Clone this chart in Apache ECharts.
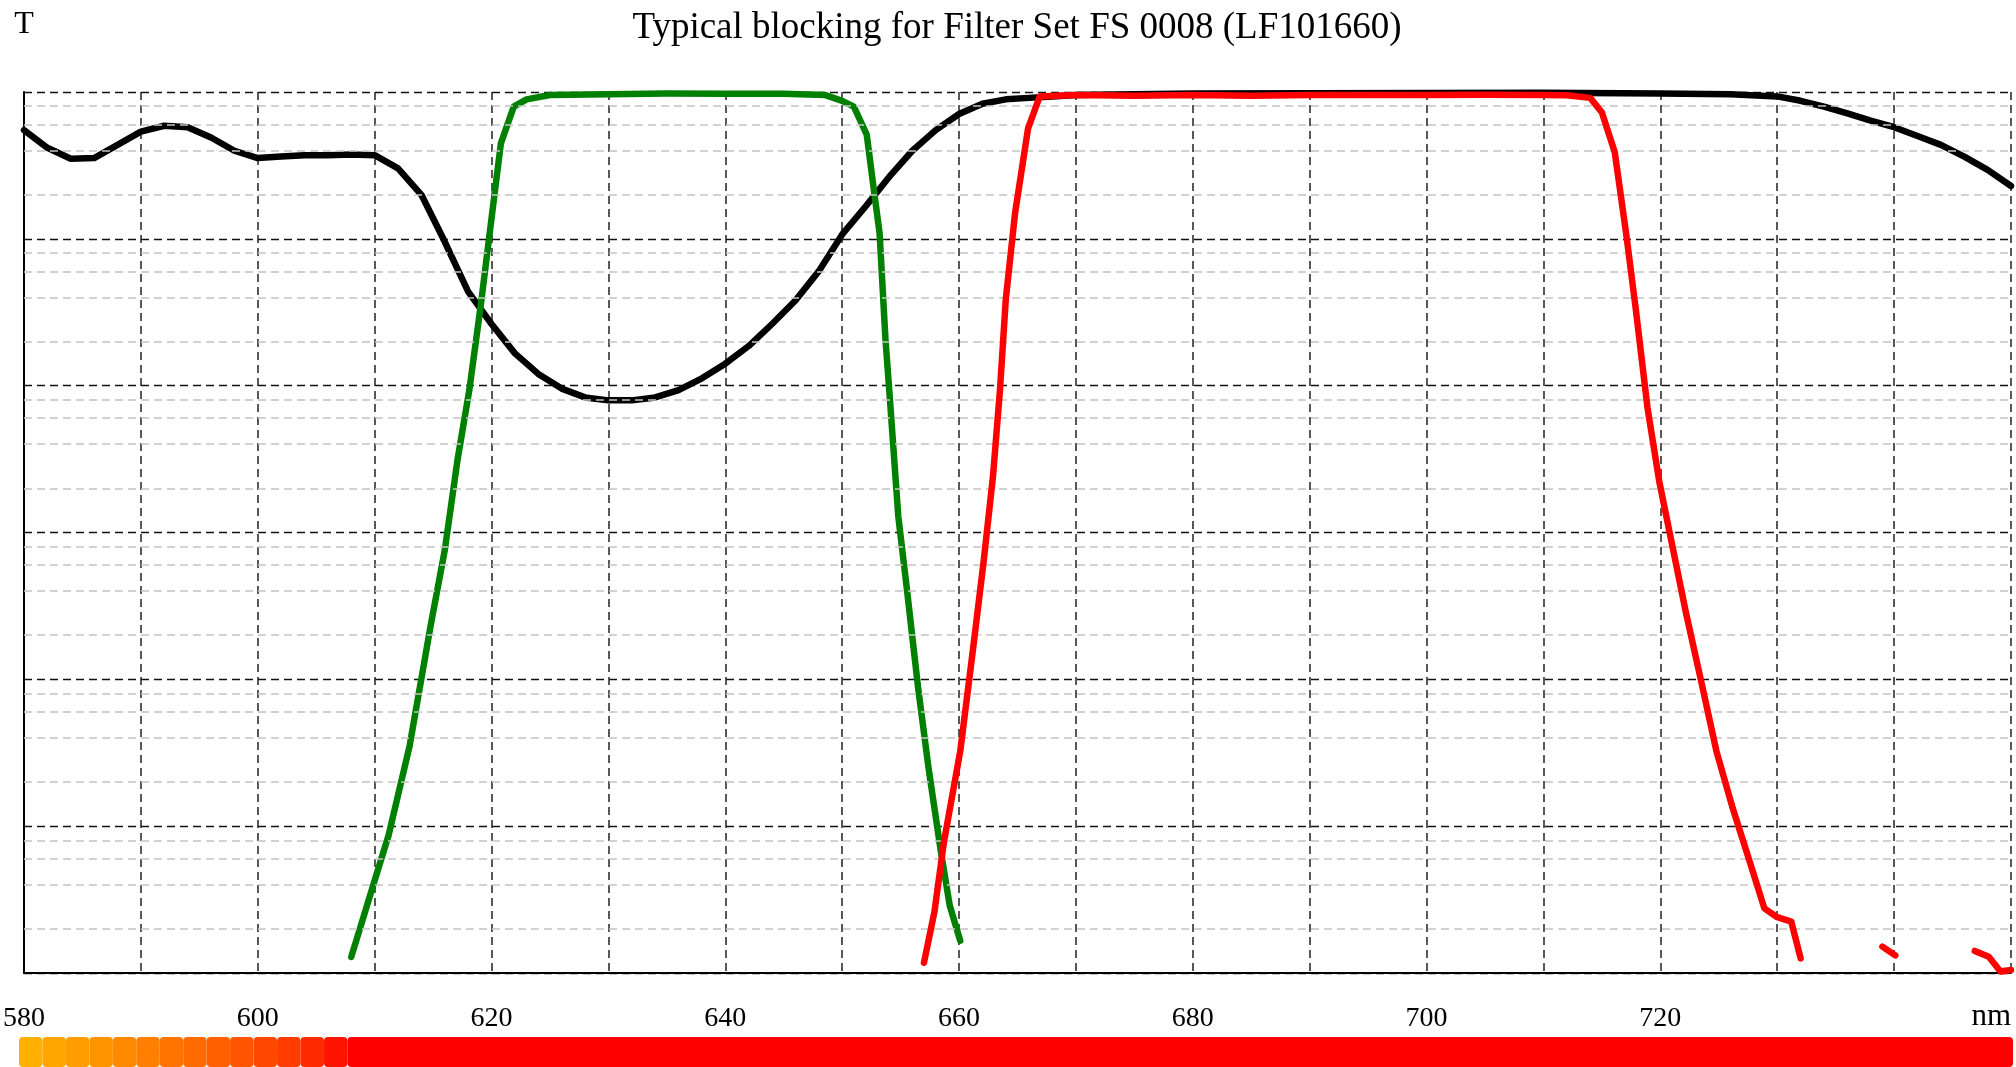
<!DOCTYPE html>
<html>
<head>
<meta charset="utf-8">
<script src="https://cdn.jsdelivr.net/npm/echarts@6/dist/echarts.min.js"></script>
<style>
html,body{margin:0;padding:0;background:#fff;}
#chart{width:2016px;height:1067px;}
</style>
</head>
<body>
<div id="chart"></div>
<script>
// ---- Data (wavelength in nm, optical density OD = -log10(T)) ----
const titleText = 'Typical blocking for Filter Set FS 0008 (LF101660)';
const xTickLabels = [580, 600, 620, 640, 660, 680, 700, 720];

// Black curve (dichroic)
const blackNm = [580,582,584,586,588,590,592,594,596,598,600,602,604,606,608,610,612,614,616,618,620,622,624,626,628,630,632,634,636,638,640,642,644,646,648,650,652,654,656,658,660,662,664,666,668,670,680,690,700,710,720,726,730,732,734,736,738,740,742,744,746,748,750];
const blackOD = [0.26,0.38,0.455,0.45,0.36,0.27,0.23,0.24,0.31,0.40,0.45,0.44,0.43,0.43,0.425,0.43,0.52,0.70,1.02,1.36,1.58,1.78,1.92,2.02,2.08,2.10,2.10,2.08,2.03,1.95,1.85,1.73,1.58,1.42,1.22,0.97,0.78,0.58,0.40,0.26,0.15,0.08,0.05,0.04,0.03,0.02,0.01,0.008,0.006,0.005,0.01,0.015,0.03,0.06,0.10,0.145,0.195,0.24,0.30,0.36,0.44,0.53,0.64];

// Green curve (excitation)
const greenNm = [608.0,610,611.2,613,614.8,616,617.1,618.1,619.1,620,620.8,621.9,623,625,630,635,640,645,648.5,650,651,652.1,652.7,653.2,653.7,654.1,654.8,655.5,656.5,657.4,658.4,659.2,660.1];
const greenOD = [5.89,5.37,5.06,4.45,3.63,3.12,2.50,2.03,1.44,0.86,0.35,0.10,0.05,0.02,0.015,0.01,0.012,0.012,0.02,0.06,0.10,0.29,0.66,0.96,1.68,2.11,2.89,3.36,4.06,4.61,5.15,5.54,5.78];

// Red curve (emission); null = below the plotted range
const redNm = [657.0,657.9,658.7,660.1,661.2,662.1,662.9,663.5,664.0,664.8,665.9,666.9,670,675,680,685,690,695,700,705,710,712,714,715,716.1,717.1,717.9,718.9,719.9,721.1,722.2,723.4,724.8,726.2,727.6,728.9,730,731.2,732,735,739,740.1,743,746.9,748.1,749.1,750];
const redOD = [5.93,5.58,5.11,4.49,3.79,3.20,2.62,2.03,1.41,0.82,0.25,0.03,0.02,0.025,0.02,0.025,0.02,0.02,0.02,0.018,0.02,0.022,0.04,0.14,0.41,0.98,1.48,2.15,2.65,3.12,3.55,3.98,4.49,4.88,5.23,5.56,5.62,5.65,5.90,null,5.82,5.88,null,5.85,5.89,5.99,5.98];

// Spectrum colour bar bands (nm)
const bandStart = [580,582,584,586,588,590,592,594,596,598,600,602,604,606,608];
const bandEnd   = [582,584,586,588,590,592,594,596,598,600,602,604,606,608,750];
const bandColor = ['#ffb000','#ffa700','#ff9d00','#ff9400','#ff8a00','#ff8000','#ff7500','#ff6b00','#ff6000','#ff5500','#ff4900','#ff3b00','#ff2a00','#ff1400','#ff0000'];

// Minor (grey) grid line positions within each decade
const minorMantissa = [0.8, 0.6, 0.4, 0.2];
const decades = [1, 1e-1, 1e-2, 1e-3, 1e-4, 1e-5];

// ---- Build ----
function toPairs(nm, od) {
  return nm.map((x, i) => [x, od[i] == null ? '-' : Math.pow(10, -od[i])]);
}
const minorLines = [];
decades.forEach(d => minorMantissa.forEach(m => minorLines.push({ yAxis: m * d })));

const FONT = 'Liberation Serif';
const chart = echarts.init(document.getElementById('chart'), null, { renderer: 'canvas' });

const lineCommon = {
  type: 'line', showSymbol: false, symbol: 'none', smooth: false,
  xAxisIndex: 0, yAxisIndex: 0, animation: false, silent: true
};

chart.setOption({
  backgroundColor: '#ffffff',
  animation: false,
  title: {
    text: titleText,
    left: 1012, top: 5, textAlign: 'center',
    textStyle: { fontFamily: FONT, fontSize: 37, fontWeight: 'normal', color: '#000' }
  },
  grid: [
    { left: 22, right: 5, top: 92, bottom: 94, containLabel: false },
    { left: 19, right: 3, top: 1037, height: 30, containLabel: false }
  ],
  xAxis: [
    {
      type: 'value', gridIndex: 0, min: 580, max: 750, interval: 10,
      name: 'nm', nameLocation: 'end', nameGap: 0,
      nameTextStyle: { fontFamily: FONT, fontSize: 31, color: '#000', align: 'right', verticalAlign: 'top', padding: [28, 0, 0, 0] },
      axisLine: { show: true, onZero: false, lineStyle: { color: '#000', width: 2 } },
      axisTick: { show: false },
      axisLabel: {
        show: true, margin: 32, fontFamily: FONT, fontSize: 28, color: '#000',
        showMinLabel: true, showMaxLabel: false,
        formatter: v => (xTickLabels.indexOf(v) >= 0 ? String(v) : '')
      },
      splitLine: { show: true, lineStyle: { color: '#222', width: 1.5, type: [8, 5] } }
    },
    { type: 'value', gridIndex: 1, min: 580, max: 750, show: false }
  ],
  yAxis: [
    {
      type: 'log', logBase: 10, gridIndex: 0, min: 1e-6, max: 1, splitNumber: 6,
      name: 'T', nameLocation: 'end', nameGap: 67,
      nameTextStyle: { fontFamily: FONT, fontSize: 32, color: '#000', align: 'center', verticalAlign: 'middle' },
      axisLine: { show: true, lineStyle: { color: '#000', width: 2 } },
      axisTick: { show: false },
      axisLabel: { show: false },
      splitLine: { show: true, lineStyle: { color: '#111', width: 1.4, type: [8, 5] } }
    },
    { type: 'value', gridIndex: 1, min: 0, max: 1, show: false }
  ],
  series: [
    {
      type: 'line', xAxisIndex: 0, yAxisIndex: 0, data: [], z: 1, silent: true,
      markLine: {
        silent: true, symbol: 'none', animation: false, precision: 12,
        label: { show: false },
        lineStyle: { color: '#c4c4c4', width: 1.5, type: [8, 5] },
        data: minorLines
      }
    },
    Object.assign({}, lineCommon, {
      name: 'black', z: 3, data: toPairs(blackNm, blackOD),
      lineStyle: { color: '#000000', width: 6.5, cap: 'round', join: 'round' }
    }),
    Object.assign({}, lineCommon, {
      name: 'green', z: 4, data: toPairs(greenNm, greenOD),
      lineStyle: { color: '#008000', width: 6.5, cap: 'round', join: 'round' }
    }),
    Object.assign({}, lineCommon, {
      name: 'red', z: 5, connectNulls: false, data: toPairs(redNm, redOD),
      lineStyle: { color: '#ff0000', width: 6.5, cap: 'round', join: 'round' }
    }),
    {
      type: 'custom', xAxisIndex: 1, yAxisIndex: 1, silent: true,
      data: bandStart.map((s, i) => [s, bandEnd[i]]),
      encode: { x: [0, 1] },
      renderItem: function (params, api) {
        const p0 = api.coord([api.value(0), 1]);
        const p1 = api.coord([api.value(1), 0]);
        return {
          type: 'rect',
          shape: { x: p0[0], y: p0[1], width: p1[0] - p0[0], height: p1[1] - p0[1], r: 4 },
          style: { fill: bandColor[params.dataIndex] }
        };
      }
    }
  ]
});
</script>
</body>
</html>
